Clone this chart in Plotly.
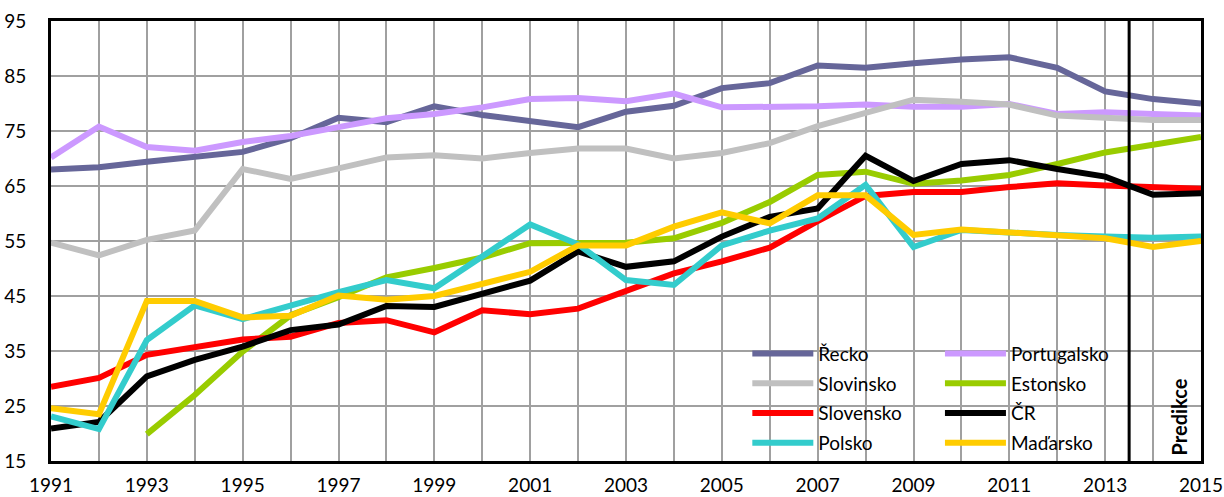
import plotly.graph_objects as go

years = list(range(1991, 2016))

recko = [68.0, 68.4, 69.4, 70.2, 71.2, 73.7, 77.4, 76.6, 79.5, 77.9, 76.7, 75.7, 78.5, 79.6, 82.8, 83.7, 86.9, 86.5, 87.3, 88.0, 88.4, 86.5, 82.2, 80.8, 80.0]
portugalsko = [70.2, 75.8, 72.1, 71.4, 73.0, 74.1, 75.7, 77.3, 78.1, 79.3, 80.8, 81.0, 80.4, 81.8, 79.3, 79.3, 79.5, 79.8, 79.4, 79.4, 79.9, 78.1, 78.4, 78.1, 77.8]
slovinsko = [54.7, 52.4, 55.2, 56.9, 68.1, 66.3, 68.2, 70.2, 70.6, 70.0, 71.0, 71.8, 71.8, 70.0, 71.0, 72.8, 75.9, 78.4, 80.7, 80.3, 79.8, 77.8, 77.3, 77.0, 77.0]
estonsko = [None, None, 19.9, 27.0, 34.9, 41.5, 44.8, 48.4, 50.1, 52.0, 54.6, 54.7, 54.7, 55.5, 58.3, 62.1, 67.0, 67.6, 65.4, 66.0, 67.0, 69.0, 71.1, 72.5, 73.9]
slovensko = [28.5, 30.1, 34.3, 35.8, 37.1, 37.6, 40.1, 40.6, 38.4, 42.4, 41.7, 42.7, 45.8, 49.1, 51.3, 53.8, 58.6, 63.2, 63.9, 63.9, 64.8, 65.5, 65.1, 64.7, 64.5]
cr = [20.9, 22.1, 30.4, 33.4, 35.8, 38.8, 39.8, 43.2, 43.0, 45.4, 47.8, 53.1, 50.3, 51.3, 55.8, 59.4, 60.9, 70.5, 65.9, 69.0, 69.7, 68.1, 66.7, 63.4, 63.7]
polsko = [23.1, 20.8, 37.0, 43.3, 40.8, 43.3, 45.7, 47.9, 46.4, 52.2, 58.0, 54.4, 47.9, 47.0, 54.2, 56.9, 59.1, 65.2, 53.9, 57.0, 56.5, 56.1, 55.8, 55.6, 55.8]
madarsko = [24.6, 23.5, 44.1, 44.1, 41.1, 41.4, 45.1, 44.3, 45.0, 47.2, 49.4, 54.2, 54.2, 57.6, 60.2, 58.2, 63.3, 63.3, 56.1, 57.1, 56.5, 55.9, 55.5, 53.9, 55.0]

series = [
    ("Řecko", recko, "#666699", "legend"),
    ("Portugalsko", portugalsko, "#CC99FF", "legend2"),
    ("Slovinsko", slovinsko, "#C0C0C0", "legend"),
    ("Estonsko", estonsko, "#99CC00", "legend2"),
    ("Slovensko", slovensko, "#FF0000", "legend"),
    ("ČR", cr, "#000000", "legend2"),
    ("Polsko", polsko, "#33CCCC", "legend"),
    ("Maďarsko", madarsko, "#FFCC00", "legend2"),
]

y_ticks = [15, 25, 35, 45, 55, 65, 75, 85, 95]
x_tick_labels = [str(y) for y in range(1991, 2016, 2)]
prediction_start = 2013.5

FONT = "Lato"

fig = go.Figure()
for name, vals, color, leg in series:
    fig.add_trace(go.Scatter(
        x=years, y=vals, mode="lines", name=name,
        line=dict(color=color, width=6),
        legend=leg, legendgroup=name,
        connectgaps=False,
    ))

# white background area behind the legends
fig.add_shape(type="rect", xref="paper", yref="paper",
              x0=0.6017, x1=0.9339, y0=0, y1=0.279,
              fillcolor="white", line=dict(width=0), layer="between")

# prediction divider
fig.add_shape(type="line", xref="x", yref="paper",
              x0=prediction_start, x1=prediction_start, y0=0, y1=1,
              line=dict(color="black", width=3), layer="above")

fig.add_annotation(x=2014.55, y=23.0, xref="x", yref="y", text="<b>Predikce</b>",
                   textangle=-90, showarrow=False,
                   font=dict(family=FONT, size=20, color="black"))

legend_common = dict(
    bgcolor="rgba(255,255,255,0)", borderwidth=0, orientation="v",
    font=dict(family=FONT, size=19, color="black"),
    itemwidth=61, tracegroupgap=2, xanchor="left", yanchor="top",
    itemclick=False, itemdoubleclick=False,
)

fig.update_layout(
    width=1224, height=497,
    margin=dict(l=51, r=23, t=21, b=36),
    paper_bgcolor="white", plot_bgcolor="white",
    font=dict(family=FONT, size=19, color="black"),
    legend=dict(x=0.6055, y=0.287, entrywidth=110, **legend_common),
    legend2=dict(x=0.773, y=0.287, entrywidth=110, **legend_common),
    xaxis=dict(
        range=[1991, 2015], tickmode="array",
        tickvals=list(range(1991, 2016, 2)), ticktext=x_tick_labels,
        showgrid=False, zeroline=False, automargin=False,
        showline=True, linecolor="black", linewidth=3, mirror=True,
        ticks="", ticklabelstandoff=5,
        tickfont=dict(family=FONT, size=19, color="black"),
        minor=dict(dtick=1, tick0=1991, showgrid=True, gridcolor="#A0A0A0", gridwidth=2),
    ),
    yaxis=dict(
        range=[15, 95], tickmode="array", tickvals=y_ticks,
        showgrid=True, gridcolor="#A0A0A0", gridwidth=2, zeroline=False,
        showline=True, linecolor="black", linewidth=3, mirror=True,
        ticks="", ticklabelstandoff=18, automargin=False,
        tickfont=dict(family=FONT, size=19, color="black"),
    ),
)

fig.write_html("out.html", config={"displayModeBar": False},
               post_script="document.body.style.margin='0';")
